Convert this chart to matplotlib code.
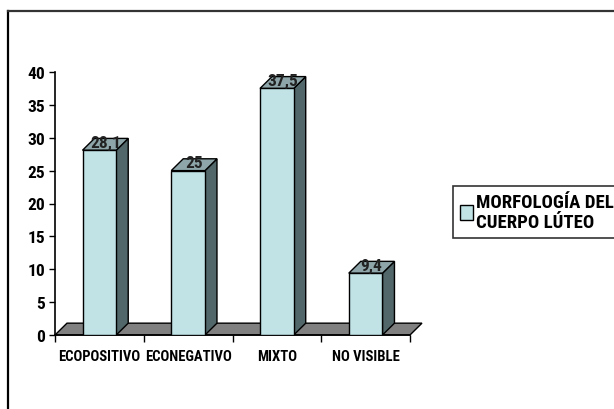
import matplotlib
matplotlib.use("Agg")
import matplotlib.pyplot as plt
from matplotlib.patches import Polygon
from matplotlib.lines import Line2D

# data
categories = ["ECOPOSITIVO", "ECONEGATIVO", "MIXTO", "NO VISIBLE"]
values = [28.1, 25, 37.5, 9.4]
value_labels = ["28,1", "25", "37,5", "9,4"]
series_name = "MORFOLOGÍA DEL\nCUERPO LÚTEO"
yticks = [0, 5, 10, 15, 20, 25, 30, 35, 40]

FONT = ["Roboto Condensed", "DejaVu Sans"]
FRONT = "#c2e3e6"
SIDE = "#52676a"
TOP = "#8ea6a9"
FLOOR = "#808080"

fig = plt.figure(figsize=(6.14, 4.10), dpi=100)
fig.patch.set_facecolor("white")
ax = fig.add_axes([55 / 614, 1 - 336 / 410, 355 / 614, 263 / 410])

x = list(range(len(categories)))
width = 0.38
dx = 0.135   # depth offset in x (data units)
dy = 1.8     # depth offset in y (data units)

ax.set_xlim(-0.5, len(categories) - 0.5)
ax.set_ylim(0, 40)

# floor
x0f, x1f = -0.5, len(categories) - 0.5
floor = Polygon([(x0f, 0), (x1f, 0), (x1f + dx, dy), (x0f + dx, dy)],
                closed=True, facecolor=FLOOR, edgecolor="black", lw=1.0,
                clip_on=False, zorder=1)
ax.add_patch(floor)

bars = ax.bar(x, values, width=width, color=FRONT, edgecolor="black",
              linewidth=1.0, zorder=3)

for rect, lab in zip(bars, value_labels):
    bx0 = rect.get_x()
    bx1 = bx0 + rect.get_width()
    h = rect.get_height()
    side = Polygon([(bx1, 0), (bx1 + dx, dy), (bx1 + dx, h + dy), (bx1, h)],
                   closed=True, facecolor=SIDE, edgecolor="black", lw=1.0,
                   clip_on=False, zorder=2)
    top = Polygon([(bx0, h), (bx1, h), (bx1 + dx, h + dy), (bx0 + dx, h + dy)],
                  closed=True, facecolor=TOP, edgecolor="black", lw=1.0,
                  clip_on=False, zorder=2)
    ax.add_patch(side)
    ax.add_patch(top)
    ax.text(bx0 + rect.get_width() / 2 + dx / 2, h + dy / 2 + 0.3, lab,
            ha="center", va="center", fontsize=12.5, fontweight="bold",
            family=FONT, color="#222222", zorder=5)

# axes styling
for s in ["top", "right"]:
    ax.spines[s].set_visible(False)
ax.spines["left"].set_linewidth(1.2)
ax.spines["bottom"].set_linewidth(1.2)
ax.set_yticks(yticks)
ax.set_yticklabels([str(t) for t in yticks], family=FONT, fontweight="bold",
                   fontsize=12.5)
ax.set_xticks([i - 0.5 for i in range(len(categories) + 1)])
ax.set_xticklabels([])
ax.set_xticks(x, minor=True)
ax.set_xticklabels(categories, minor=True, family=FONT, fontweight="bold",
                   fontsize=10.5)
ax.tick_params(axis="x", which="minor", length=0, pad=10)
ax.tick_params(axis="x", which="major", length=5, width=1.0, direction="out")
ax.tick_params(axis="y", length=4, width=1.0, pad=3)

# legend
leg = fig.legend([bars], [series_name], loc="upper left",
                 bbox_to_anchor=(453 / 614, 1 - 187 / 410),
                 prop={"family": FONT, "weight": "bold", "size": 13.5},
                 frameon=True, fancybox=False, edgecolor="black",
                 handlelength=0.7, handleheight=0.8, handletextpad=0.2,
                 borderpad=0.35, borderaxespad=0)
leg.get_frame().set_linewidth(1.2)

# outer frame (left and top only)
fig.add_artist(Line2D([8 / 614, 8 / 614], [0, 1 - 12 / 410], color="black", lw=1.6,
                      transform=fig.transFigure))
fig.add_artist(Line2D([8 / 614, 1], [1 - 12 / 410, 1 - 12 / 410], color="#333333",
                      lw=1.6, transform=fig.transFigure))

fig.savefig("out.png", dpi=100, facecolor="white")
